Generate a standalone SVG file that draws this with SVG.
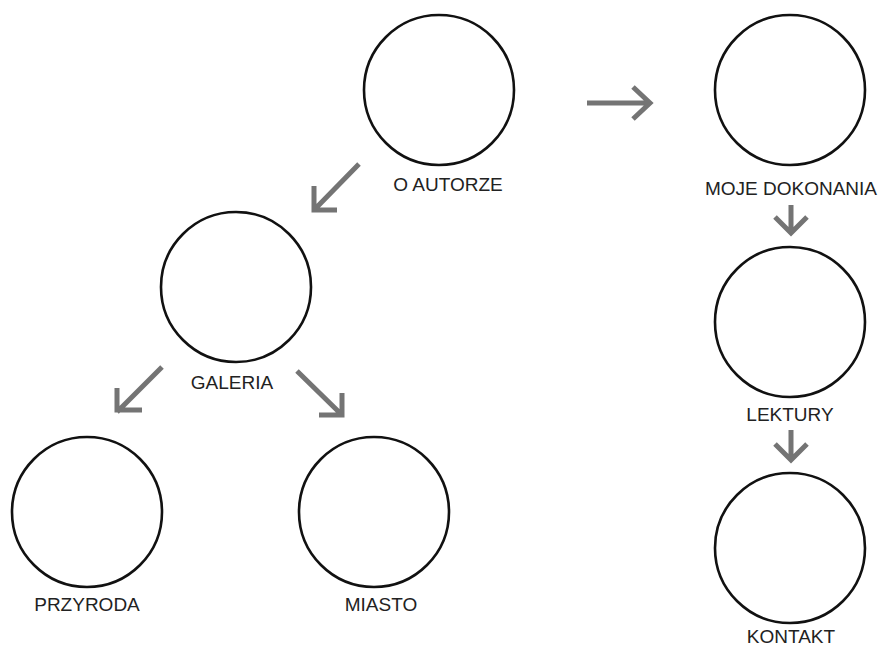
<svg xmlns="http://www.w3.org/2000/svg" width="880" height="648" viewBox="0 0 880 648">
<style>
.node circle{fill:#fff;stroke:#111;stroke-width:2.6}
.node text{font-family:"Liberation Sans",Arial,sans-serif;font-size:19px;fill:#222;text-anchor:middle}
.conn path{fill:none;stroke:#747474;stroke-width:5;stroke-linecap:butt;stroke-linejoin:miter}
</style>
<rect width="880" height="648" fill="#fff"/>
<g id="n-autorze" class="node"><circle cx="439" cy="90" r="75"/><text x="448" y="191">O AUTORZE</text></g>
<g id="n-dokonania" class="node"><circle cx="790" cy="90" r="75"/><text x="791" y="195">MOJE DOKONANIA</text></g>
<g id="n-lektury" class="node"><circle cx="790" cy="322" r="75"/><text x="790" y="421">LEKTURY</text></g>
<g id="n-kontakt" class="node"><circle cx="790" cy="548" r="75"/><text x="791" y="643">KONTAKT</text></g>
<g id="n-galeria" class="node"><circle cx="236" cy="287" r="75"/><text x="232" y="389">GALERIA</text></g>
<g id="n-przyroda" class="node"><circle cx="87" cy="512" r="75"/><text x="87" y="611">PRZYRODA</text></g>
<g id="n-miasto" class="node"><circle cx="374" cy="512" r="75"/><text x="381" y="611">MIASTO</text></g>
<g id="connectors" class="conn">
<path d="M359 164L314 210M314 186V210H337"/>
<path d="M587 103H650M633 87L650 103L633 119"/>
<path d="M162 367L117 412M117 388V410H142"/>
<path d="M297 371L342 415M342 393V415H319"/>
<path d="M791 205V232M775 217L791 233L807 217"/>
<path d="M791 430V459M775 444L791 460L807 444"/>
</g>
</svg>
